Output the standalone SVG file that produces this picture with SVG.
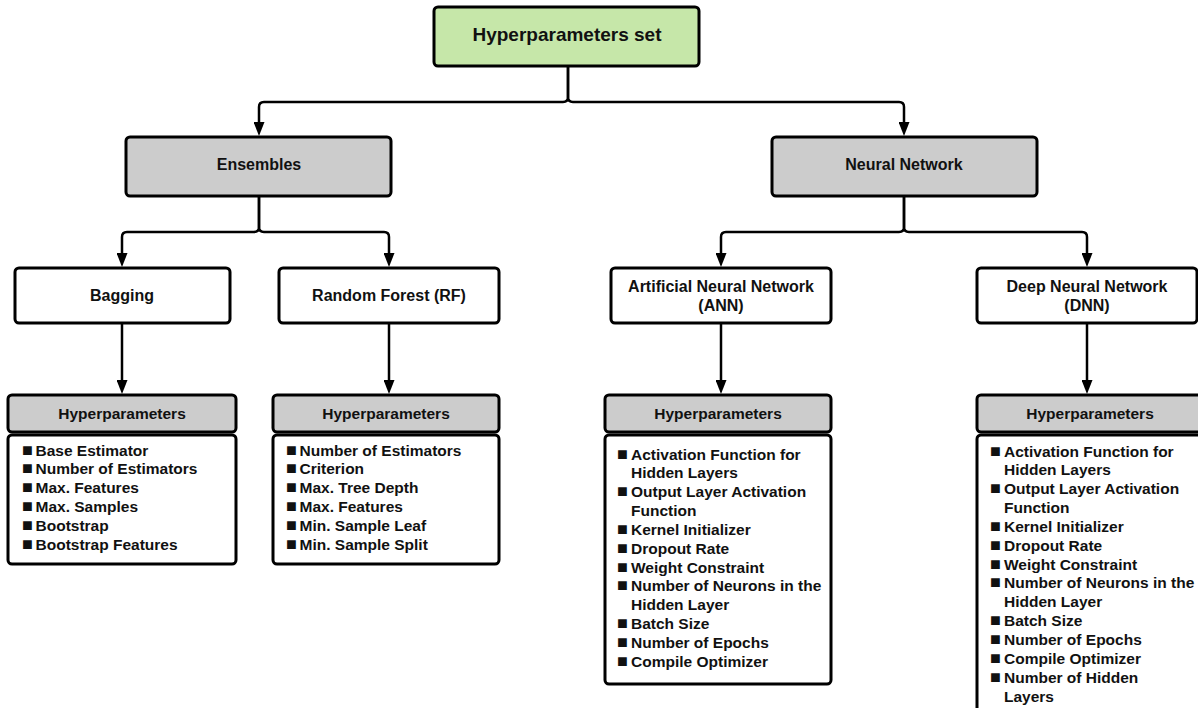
<svg xmlns="http://www.w3.org/2000/svg" width="1198" height="708" viewBox="0 0 1198 708">
<style>
text{font-family:"Liberation Sans",Arial,sans-serif;font-weight:bold;fill:#111;}
.box{stroke:#000;stroke-width:3;}
.green{fill:#c6e7a9;}
.gray{fill:#cccccc;}
.white{fill:#fff;}
.t19{font-size:19px;text-anchor:middle;}
.t16{font-size:16px;text-anchor:middle;}
.th{font-size:15.5px;text-anchor:middle;}
.li{font-size:15.5px;}
.b{font-size:18px;}
.conn path{fill:none;stroke:#000;stroke-width:2.5;marker-end:url(#arr);}
</style>
<defs>
<marker id="arr" markerUnits="userSpaceOnUse" markerWidth="14" markerHeight="11" refX="6" refY="5.5" orient="auto">
<path d="M0,0 L14,5.5 L0,11 z" fill="#000"/>
</marker>
</defs>
<rect width="1198" height="708" fill="#fff"/>
<g class="conn" id="connectors">
<path d="M568,67 V97 Q568,102 563,102 H264 Q259,102 259,107 V128"/>
<path d="M568,67 V97 Q568,102 573,102 H899 Q904,102 904,107 V128"/>
<path d="M259,197 V227 Q259,232 254,232 H127 Q122,232 122,237 V259"/>
<path d="M259,197 V227 Q259,232 264,232 H384 Q389,232 389,237 V259"/>
<path d="M904,197 V227 Q904,232 899,232 H726 Q721,232 721,237 V259"/>
<path d="M904,197 V227 Q904,232 909,232 H1082 Q1087,232 1087,237 V259"/>
<path d="M122,324 V386"/>
<path d="M389,324 V386"/>
<path d="M721,324 V386"/>
<path d="M1087,324 V386"/>
</g>
<g id="root">
<rect class="box green" x="434" y="7" width="265" height="59" rx="4"/>
<text class="t19" x="567" y="40.5">Hyperparameters set</text>
</g>
<g id="ensembles">
<rect class="box gray" x="126" y="137" width="265" height="59" rx="4"/>
<text class="t16" x="259" y="170">Ensembles</text>
</g>
<g id="neural-network">
<rect class="box gray" x="772" y="137" width="265" height="59" rx="4"/>
<text class="t16" x="904" y="170">Neural Network</text>
</g>
<g id="bagging">
<rect class="box white" x="15" y="268" width="215" height="55" rx="4"/>
<text class="t16" x="122" y="300.5">Bagging</text>
</g>
<g id="random-forest">
<rect class="box white" x="279" y="268" width="220" height="55" rx="4"/>
<text class="t16" x="389" y="300.5">Random Forest (RF)</text>
</g>
<g id="ann">
<rect class="box white" x="611" y="268" width="220" height="55" rx="4"/>
<text class="t16" x="721" y="291.5">Artificial Neural Network</text>
<text class="t16" x="721" y="310.5">(ANN)</text>
</g>
<g id="dnn">
<rect class="box white" x="977" y="268" width="220" height="55" rx="4"/>
<text class="t16" x="1087" y="291.5">Deep Neural Network</text>
<text class="t16" x="1087" y="310.5">(DNN)</text>
</g>
<g id="bagging-hp">
<rect class="box gray" x="8" y="395" width="228" height="37" rx="4"/>
<text class="th" x="122" y="419">Hyperparameters</text>
<rect class="box white" x="8" y="435" width="228" height="129" rx="4"/>
<text class="li">
<tspan class="b" x="22" y="455.5">■</tspan><tspan x="35.5">Base Estimator</tspan>
<tspan class="b" x="22" y="474.4">■</tspan><tspan x="35.5">Number of Estimators</tspan>
<tspan class="b" x="22" y="493.3">■</tspan><tspan x="35.5">Max. Features</tspan>
<tspan class="b" x="22" y="512.2">■</tspan><tspan x="35.5">Max. Samples</tspan>
<tspan class="b" x="22" y="531.1">■</tspan><tspan x="35.5">Bootstrap</tspan>
<tspan class="b" x="22" y="550">■</tspan><tspan x="35.5">Bootstrap Features</tspan>
</text>
</g>
<g id="rf-hp">
<rect class="box gray" x="273" y="395" width="226" height="37" rx="4"/>
<text class="th" x="386" y="419">Hyperparameters</text>
<rect class="box white" x="273" y="435" width="226" height="129" rx="4"/>
<text class="li">
<tspan class="b" x="286" y="455.5">■</tspan><tspan x="299.5">Number of Estimators</tspan>
<tspan class="b" x="286" y="474.4">■</tspan><tspan x="299.5">Criterion</tspan>
<tspan class="b" x="286" y="493.3">■</tspan><tspan x="299.5">Max. Tree Depth</tspan>
<tspan class="b" x="286" y="512.2">■</tspan><tspan x="299.5">Max. Features</tspan>
<tspan class="b" x="286" y="531.1">■</tspan><tspan x="299.5">Min. Sample Leaf</tspan>
<tspan class="b" x="286" y="550">■</tspan><tspan x="299.5">Min. Sample Split</tspan>
</text>
</g>
<g id="ann-hp">
<rect class="box gray" x="605" y="395" width="226" height="37" rx="4"/>
<text class="th" x="718" y="419">Hyperparameters</text>
<rect class="box white" x="605" y="435" width="226" height="249" rx="4"/>
<text class="li">
<tspan class="b" x="617" y="459.5">■</tspan><tspan x="631">Activation Function for</tspan>
<tspan x="631" y="478.35">Hidden Layers</tspan>
<tspan class="b" x="617" y="497.2">■</tspan><tspan x="631">Output Layer Activation</tspan>
<tspan x="631" y="516.05">Function</tspan>
<tspan class="b" x="617" y="534.9">■</tspan><tspan x="631">Kernel Initializer</tspan>
<tspan class="b" x="617" y="553.75">■</tspan><tspan x="631">Dropout Rate</tspan>
<tspan class="b" x="617" y="572.6">■</tspan><tspan x="631">Weight Constraint</tspan>
<tspan class="b" x="617" y="591.45">■</tspan><tspan x="631">Number of Neurons in the</tspan>
<tspan x="631" y="610.3">Hidden Layer</tspan>
<tspan class="b" x="617" y="629.15">■</tspan><tspan x="631">Batch Size</tspan>
<tspan class="b" x="617" y="648">■</tspan><tspan x="631">Number of Epochs</tspan>
<tspan class="b" x="617" y="666.85">■</tspan><tspan x="631">Compile Optimizer</tspan>
</text>
</g>
<g id="dnn-hp">
<rect class="box gray" x="977" y="395" width="230" height="37" rx="4"/>
<text class="th" x="1090" y="419">Hyperparameters</text>
<rect class="box white" x="977" y="435" width="230" height="285" rx="4"/>
<text class="li">
<tspan class="b" x="990" y="456.5">■</tspan><tspan x="1004">Activation Function for</tspan>
<tspan x="1004" y="475.35">Hidden Layers</tspan>
<tspan class="b" x="990" y="494.2">■</tspan><tspan x="1004">Output Layer Activation</tspan>
<tspan x="1004" y="513.05">Function</tspan>
<tspan class="b" x="990" y="531.9">■</tspan><tspan x="1004">Kernel Initializer</tspan>
<tspan class="b" x="990" y="550.75">■</tspan><tspan x="1004">Dropout Rate</tspan>
<tspan class="b" x="990" y="569.6">■</tspan><tspan x="1004">Weight Constraint</tspan>
<tspan class="b" x="990" y="588.45">■</tspan><tspan x="1004">Number of Neurons in the</tspan>
<tspan x="1004" y="607.3">Hidden Layer</tspan>
<tspan class="b" x="990" y="626.15">■</tspan><tspan x="1004">Batch Size</tspan>
<tspan class="b" x="990" y="645">■</tspan><tspan x="1004">Number of Epochs</tspan>
<tspan class="b" x="990" y="663.85">■</tspan><tspan x="1004">Compile Optimizer</tspan>
<tspan class="b" x="990" y="682.7">■</tspan><tspan x="1004">Number of Hidden</tspan>
<tspan x="1004" y="701.55">Layers</tspan>
</text>
</g>
</svg>
